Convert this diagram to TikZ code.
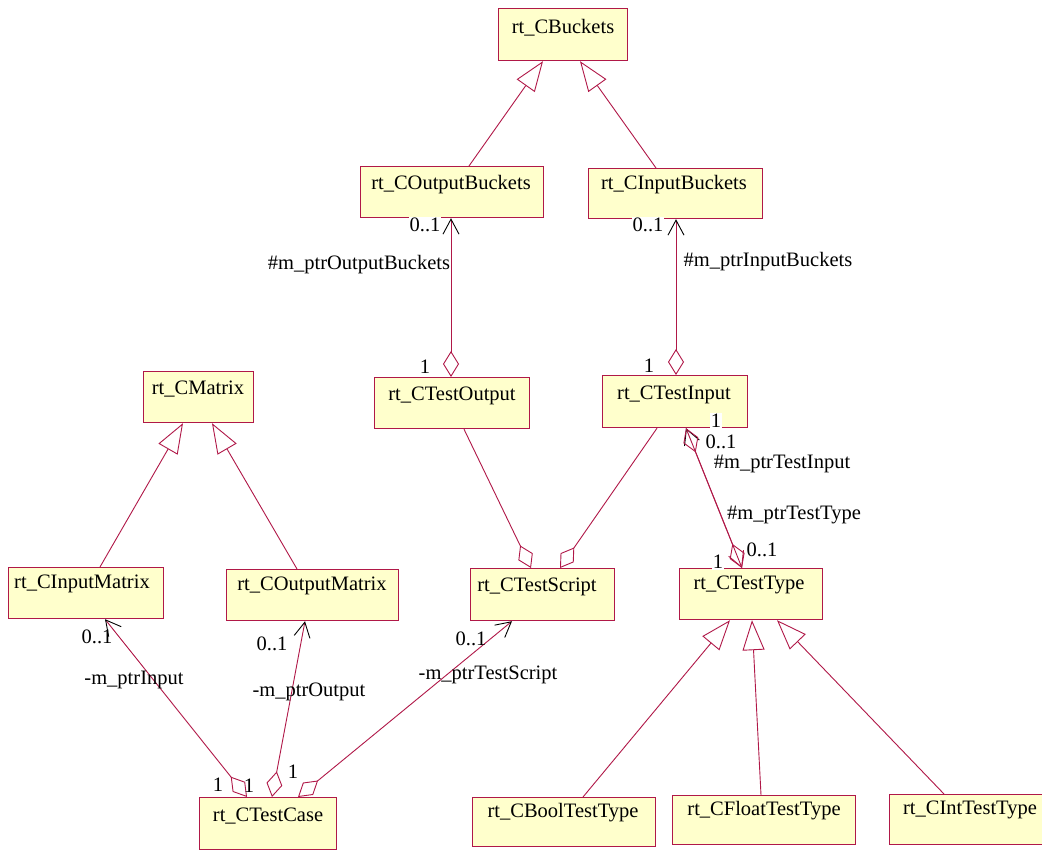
\documentclass[tikz,border=0pt]{standalone}
\usepackage{fontspec}
\setmainfont{Liberation Serif}
\usetikzlibrary{arrows.meta}
\definecolor{umlred}{RGB}{176,24,72}
\definecolor{umlfill}{RGB}{255,255,204}
\begin{document}
\begin{tikzpicture}[x=1pt,y=-1pt,
  cls/.style={draw=umlred, fill=umlfill, line width=1.2pt, anchor=north west, inner sep=0pt},
  txt/.style={font=\fontsize{20.5}{24}\selectfont, inner sep=0pt},
  mult/.style={txt, fill=white, inner sep=1pt},
  gen/.style={draw=umlred, line width=0.9pt, -{Triangle[open,length=30pt,width=22pt]}},
  assoc/.style={draw=umlred, line width=0.9pt, {Diamond[open,length=26pt,width=16pt]}-{Straight Barb[length=15pt,width=16pt,color=black]}},
  agg/.style={draw=umlred, line width=0.9pt, -{Diamond[open,length=25pt,width=16pt]}}
]
\clip (0,0) rectangle (1042,853);
\useasboundingbox (0,0) rectangle (1042,853);
\fill[white] (0,0) rectangle (1042,853);

% class boxes
\node[cls, minimum width=129pt, minimum height=52pt] (cb)  at (498,8) {};
\node[cls, minimum width=183pt, minimum height=51pt] (cob) at (360,166) {};
\node[cls, minimum width=174pt, minimum height=50pt] (cib) at (588,168) {};
\node[cls, minimum width=155pt, minimum height=51pt] (cto) at (374,377) {};
\node[cls, minimum width=145pt, minimum height=52pt] (cti) at (602,375) {};
\node[cls, minimum width=110pt, minimum height=51pt] (cm)  at (143,371) {};
\node[cls, minimum width=155pt, minimum height=51pt] (cim) at (8,567) {};
\node[cls, minimum width=172pt, minimum height=51pt] (com) at (226,569) {};
\node[cls, minimum width=144pt, minimum height=52pt] (cts) at (470,568) {};
\node[cls, minimum width=143pt, minimum height=51pt] (ctt) at (679,568) {};
\node[cls, minimum width=137pt, minimum height=52pt] (ctc) at (199,797) {};
\node[cls, minimum width=183pt, minimum height=49pt] (cbt) at (472,797) {};
\node[cls, minimum width=183pt, minimum height=49pt] (cft) at (672,795) {};
\node[cls, minimum width=160pt, minimum height=50pt] (cit) at (889,794) {};

% class names
\node[txt] (cb-t)  at (563,28)  {rt\_CBuckets};
\node[txt] (cob-t) at (451,185) {rt\_COutputBuckets};
\node[txt] (cib-t) at (674,185) {rt\_CInputBuckets};
\node[txt] (cto-t) at (452,396) {rt\_CTestOutput};
\node[txt] (cti-t) at (674,395) {rt\_CTestInput};
\node[txt] (cm-t)  at (198,389) {rt\_CMatrix};
\node[txt] (cim-t) at (82,584)  {rt\_CInputMatrix};
\node[txt] (com-t) at (312,586) {rt\_COutputMatrix};
\node[txt] (cts-t) at (537,587) {rt\_CTestScript};
\node[txt] (ctt-t) at (749,585) {rt\_CTestType};
\node[txt] (ctc-t) at (268,816) {rt\_CTestCase};
\node[txt] (cbt-t) at (563,813) {rt\_CBoolTestType};
\node[txt] (cft-t) at (764,811) {rt\_CFloatTestType};
\node[txt] (cit-t) at (970,810) {rt\_CIntTestType};

% generalizations
\draw[gen] ([xshift=109pt]cob.north west) -- ([xshift=45pt]cb.south west);
\draw[gen] ([xshift=68pt]cib.north west) -- ([xshift=82pt]cb.south west);
\draw[gen] ([xshift=92pt]cim.north west) -- ([xshift=40pt]cm.south west);
\draw[gen] ([xshift=71pt]com.north west) -- ([xshift=69pt]cm.south west);
\draw[gen] ([xshift=111pt]cbt.north west) -- ([xshift=51pt]ctt.south west);
\draw[gen] ([xshift=89pt]cft.north west) -- ([xshift=73pt]ctt.south west);
\draw[gen] ([xshift=55pt]cit.north west) -- ([xshift=98pt]ctt.south west);

% associations
\draw[assoc] ([xshift=77pt]cto.north west) -- ([xshift=91pt]cob.south west);
\draw[assoc] ([xshift=74pt]cti.north west) -- ([xshift=88pt]cib.south west);
\draw[agg] ([xshift=90pt]cto.south west) -- ([xshift=61pt]cts.north west);
\draw[agg] ([xshift=55pt]cti.south west) -- ([xshift=90pt]cts.north west);
\draw[assoc] ([xshift=48pt]ctc.north west) -- ([xshift=97pt]cim.south west);
\draw[assoc] ([xshift=73pt]ctc.north west) -- ([xshift=79pt]com.south west);
\draw[assoc] ([xshift=99pt]ctc.north west) -- ([xshift=42pt]cts.south west);
\draw[draw=umlred, line width=0.9pt, {Straight Barb[length=15pt,width=16pt,color=black]}-{Diamond[open,length=26pt,width=16pt]}]
  ([xshift=84pt]cti.south west) -- ([xshift=63pt]ctt.north west);
\draw[draw=umlred, line width=0.9pt, {Diamond[open,length=26pt,width=16pt]}-{Straight Barb[length=15pt,width=16pt]}]
  ([xshift=84pt]cti.south west) -- ([xshift=63pt]ctt.north west);

% association labels
\node[mult] (l1) at (425,225) {0..1};
\node[txt]  (l2) at (359,265) {\#m\_ptrOutputBuckets};
\node[mult] (l3) at (425,367) {1};
\node[mult] (l4) at (648,225) {0..1};
\node[txt]  (l5) at (768,262) {\#m\_ptrInputBuckets};
\node[mult] (l6) at (649,366) {1};
\node[mult] (l7) at (716,421) {1};
\node[txt]  (l8) at (721,442) {0..1};
\node[txt]  (l9) at (782,464) {\#m\_ptrTestInput};
\node[txt]  (l10) at (794,515) {\#m\_ptrTestType};
\node[txt]  (l11) at (762,550) {0..1};
\node[mult] (l12) at (718,562) {1};
\node[txt]  (l13) at (97,637) {0..1};
\node[txt]  (l14) at (134,680) {-m\_ptrInput};
\node[txt]  (l15) at (272,644) {0..1};
\node[txt]  (l16) at (309,692) {-m\_ptrOutput};
\node[txt]  (l17) at (471,639) {0..1};
\node[txt]  (l18) at (488,675) {-m\_ptrTestScript};
\node[txt]  (l19) at (218,785) {1};
\node[txt]  (l20) at (249,786) {1};
\node[txt]  (l21) at (293,772) {1};
\end{tikzpicture}
\end{document}
